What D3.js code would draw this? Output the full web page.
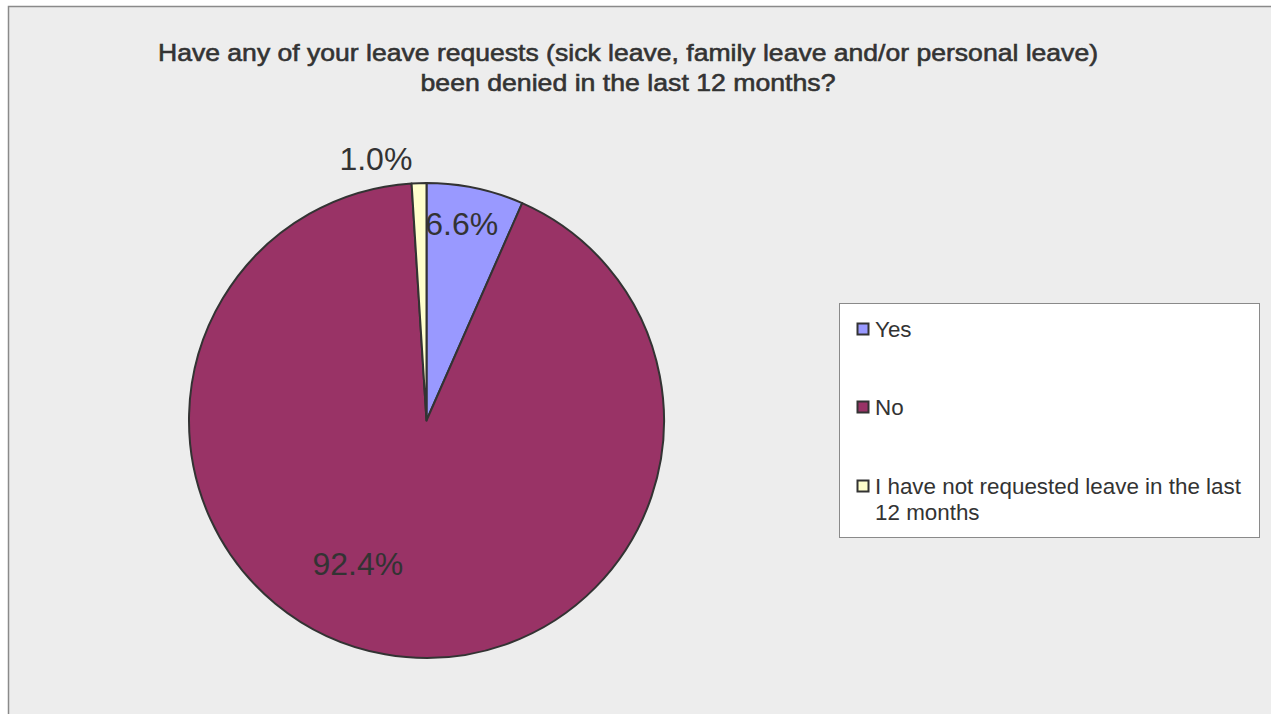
<!DOCTYPE html>
<html>
<head>
<meta charset="utf-8">
<script src="https://cdn.jsdelivr.net/npm/d3@7"></script>
<style>
  html, body { margin: 0; padding: 0; background: #ffffff; }
  svg { display: block; }
  text { font-family: "Liberation Sans", Arial, sans-serif; fill: #333333; }
</style>
</head>
<body>
<svg id="chart" width="1271" height="714"></svg>
<script>
// Survey answers and their shares (percent)
const categories = ["Yes", "No", "I have not requested leave in the last 12 months"];
const shares = [6.6, 92.4, 1.0];
const colors = ["#9999FF", "#993366", "#FFFFCC"];
const titleLines = [
  "Have any of your leave requests (sick leave, family leave and/or personal leave)",
  "been denied in the last 12 months?"
];
const legendLines = [["Yes"], ["No"], ["I have not requested leave in the last", "12 months"]];

const svg = d3.select("#chart");
const W = 1271, H = 714;

// Chart area background and frame
svg.append("rect")
  .attr("x", 8.5).attr("y", 6.5)
  .attr("width", W + 20).attr("height", H + 20)
  .attr("fill", "#EDEDED")
  .attr("stroke", "#8A8A8A")
  .attr("stroke-width", 1.5);

// Title (medium weight: regular face with a light outline, slightly widened)
const titleWidths = [940, 415];
svg.append("text")
  .attr("x", 628).attr("y", 61)
  .attr("text-anchor", "middle")
  .style("font-size", "24.5px")
  .style("stroke", "#333333")
  .style("stroke-width", "0.6px")
  .selectAll("tspan")
  .data(titleLines)
  .join("tspan")
  .attr("x", 628)
  .attr("dy", (d, i) => i === 0 ? 0 : 30)
  .attr("textLength", (d, i) => titleWidths[i])
  .attr("lengthAdjust", "spacingAndGlyphs")
  .text(d => d);

// Pie
const cx = 426.5, cy = 420.5, R = 237.5;
const data = categories.map((c, i) => ({ name: c, value: shares[i], color: colors[i] }));
const pie = d3.pie().sort(null).value(d => d.value);
const arcs = pie(data);
const arc = d3.arc().innerRadius(0).outerRadius(R);

const g = svg.append("g").attr("transform", `translate(${cx},${cy})`);
g.selectAll("path")
  .data(arcs)
  .join("path")
  .attr("d", arc)
  .attr("fill", d => d.data.color)
  .attr("stroke", "#333333")
  .attr("stroke-width", 2)
  .attr("stroke-linejoin", "round");

// Data labels: placed along each slice, with radius and angle nudges per slice
const labelPlacement = [
  { r: 0.84, shift: -0.03 },
  { r: 0.67, shift: 0.27 },
  { r: 1.12, shift: -0.16 }
];
g.selectAll("text.lbl")
  .data(arcs)
  .join("text")
  .attr("class", "lbl")
  .attr("text-anchor", "middle")
  .attr("dominant-baseline", "central")
  .style("font-size", "32px")
  .attr("transform", (d, i) => {
    const p = labelPlacement[i];
    const a = (d.startAngle + d.endAngle) / 2 + p.shift;
    const rr = R * p.r;
    return `translate(${rr * Math.sin(a)},${-rr * Math.cos(a)})`;
  })
  .text(d => d.data.value.toFixed(1) + "%");

// Legend
const lg = svg.append("g");
lg.append("rect")
  .attr("x", 839.5).attr("y", 303.5)
  .attr("width", 420).attr("height", 234)
  .attr("fill", "#ffffff")
  .attr("stroke", "#8A8A8A")
  .attr("stroke-width", 1);

const itemY = [329, 407, 486];
const items = lg.selectAll("g.item")
  .data(data)
  .join("g")
  .attr("class", "item")
  .attr("transform", (d, i) => `translate(857,${itemY[i]})`);
items.append("rect")
  .attr("x", 0.5).attr("y", -5.5)
  .attr("width", 11).attr("height", 11)
  .attr("fill", d => d.color)
  .attr("stroke", "#333333")
  .attr("stroke-width", 2);
items.append("text")
  .attr("x", 18).attr("y", 7.5)
  .style("font-size", "22.4px")
  .selectAll("tspan")
  .data((d, i) => legendLines[i])
  .join("tspan")
  .attr("x", 18)
  .attr("dy", (d, j) => j === 0 ? 0 : 26)
  .text(d => d);
</script>
</body>
</html>
